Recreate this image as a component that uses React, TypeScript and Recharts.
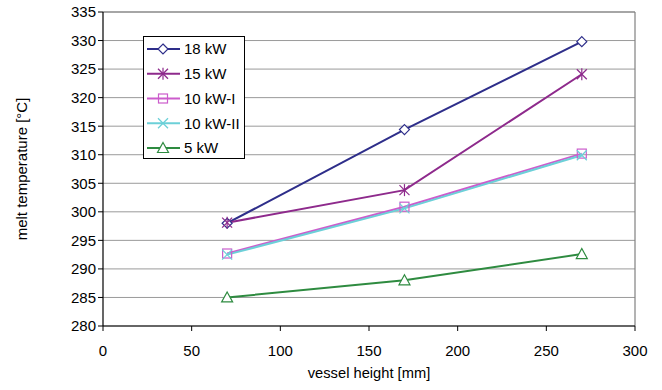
import React from 'react';
import { LineChart, Line, XAxis, YAxis, CartesianGrid, ReferenceLine } from 'recharts';

const heights = [70, 170, 270];
const kw18 = [298.0, 314.4, 329.8];
const kw15 = [298.1, 303.8, 324.1];
const kw10a = [292.7, 300.9, 310.2];
const kw10b = [292.5, 300.6, 309.9];
const kw5 = [285.0, 288.0, 292.6];

const xTicks = [0, 50, 100, 150, 200, 250, 300];
const yTicks = [280, 285, 290, 295, 300, 305, 310, 315, 320, 325, 330, 335];

const series = [
  { key: 'kw18', name: '18 kW', color: '#2e2e8a', marker: 'diamond', values: kw18 },
  { key: 'kw15', name: '15 kW', color: '#8e2a8c', marker: 'star', values: kw15 },
  { key: 'kw10a', name: '10 kW-I', color: '#cc5ccc', marker: 'square', values: kw10a },
  { key: 'kw10b', name: '10 kW-II', color: '#6cd0d8', marker: 'x', values: kw10b },
  { key: 'kw5', name: '5 kW', color: '#2e8b40', marker: 'triangle', values: kw5 },
];

const data = heights.map((h, i) => {
  const row: any = { h };
  series.forEach((s) => { row[s.key] = s.values[i]; });
  return row;
});

const FONT = 'Liberation Sans, Arial, sans-serif';

function Marker({ type, cx, cy, color }: { type: string; cx: number; cy: number; color: string }) {
  const r = 5;
  const sw = 1.2;
  switch (type) {
    case 'diamond':
      return <polygon points={`${cx},${cy - r} ${cx + r},${cy} ${cx},${cy + r} ${cx - r},${cy}`} fill="white" stroke={color} strokeWidth={sw} />;
    case 'square':
      return <rect x={cx - 4.5} y={cy - 4.5} width={9} height={9} fill="white" fillOpacity={0} stroke={color} strokeWidth={sw} />;
    case 'triangle':
      return <polygon points={`${cx},${cy - 5.5} ${cx + 5.5},${cy + 4.5} ${cx - 5.5},${cy + 4.5}`} fill="white" stroke={color} strokeWidth={sw} />;
    case 'x':
      return (
        <g stroke={color} strokeWidth={sw}>
          <line x1={cx - 5} y1={cy - 5} x2={cx + 5} y2={cy + 5} />
          <line x1={cx - 5} y1={cy + 5} x2={cx + 5} y2={cy - 5} />
        </g>
      );
    case 'star':
      return (
        <g stroke={color} strokeWidth={sw}>
          <line x1={cx - 5} y1={cy - 5} x2={cx + 5} y2={cy + 5} />
          <line x1={cx - 5} y1={cy + 5} x2={cx + 5} y2={cy - 5} />
          <line x1={cx} y1={cy - 6} x2={cx} y2={cy + 6} />
        </g>
      );
    default:
      return null;
  }
}

const makeDot = (type: string, color: string) => (props: any) => {
  const { cx, cy, index } = props;
  if (cx == null || cy == null) return <g key={`d-${index}`} />;
  return <g key={`d-${type}-${index}`}><Marker type={type} cx={cx} cy={cy} color={color} /></g>;
};

function LegendBox() {
  const rowH = 24.75;
  return (
    <svg width={102} height={123} style={{ display: 'block' }}>
      <rect x={0.5} y={0.5} width={101} height={122} fill="white" stroke="#000" strokeWidth={1} />
      {series.map((s, i) => {
        const y = 13 + i * rowH;
        return (
          <g key={s.key}>
            <line x1={4} y1={y} x2={37} y2={y} stroke={s.color} strokeWidth={2} />
            <Marker type={s.marker} cx={20} cy={y} color={s.color} />
            <text x={41} y={y + 5.3} fontFamily={FONT} fontSize={15} fill="#000">{s.name}</text>
          </g>
        );
      })}
    </svg>
  );
}

const YLabel = (props: any) => {
  const vb = props.viewBox || {};
  const cy = (vb.y ?? 12) + (vb.height ?? 314) / 2;
  return (
    <text x={21} y={cy} transform={`rotate(-90, 21, ${cy})`} textAnchor="middle" dominantBaseline="central" fontFamily={FONT} fontSize={15} fill="#000">
      melt temperature [°C]
    </text>
  );
};

const XLabel = (props: any) => {
  const vb = props.viewBox || {};
  const cx = (vb.x ?? 103) + (vb.width ?? 532) / 2;
  return (
    <text x={cx} y={378} textAnchor="middle" fontFamily={FONT} fontSize={14.7} fill="#000">
      vessel height [mm]
    </text>
  );
};

export default function App() {
  return (
    <div style={{ position: 'absolute', left: 0, top: 0, width: 662, height: 390, background: 'white' }}>
      <LineChart width={662} height={390} data={data} margin={{ top: 12, right: 27, left: 0, bottom: 0 }}>
        <CartesianGrid horizontal={true} vertical={false} stroke="#9a9a9a" strokeWidth={1} />
        <XAxis
          dataKey="h"
          type="number"
          domain={[0, 300]}
          ticks={xTicks}
          height={64}
          tickSize={5}
          tickLine={{ stroke: '#000' }}
          axisLine={{ stroke: '#000', strokeWidth: 1.2 }}
          tick={{ fontFamily: FONT, fontSize: 15, fill: '#000', dy: 12 }}
          label={<XLabel />}
        />
        <YAxis
          type="number"
          domain={[280, 335]}
          ticks={yTicks}
          width={103}
          tickSize={5}
          interval={0}
          tickLine={{ stroke: '#000' }}
          axisLine={{ stroke: '#000', strokeWidth: 1.2 }}
          tick={{ fontFamily: FONT, fontSize: 15, fill: '#000' }}
          label={<YLabel />}
        />
        <ReferenceLine x={300} stroke="#808080" strokeWidth={1.2} />
        <ReferenceLine y={335} stroke="#808080" strokeWidth={1.2} />
        {series.map((s) => (
          <Line
            key={s.key}
            dataKey={s.key}
            name={s.name}
            stroke={s.color}
            strokeWidth={2}
            isAnimationActive={false}
            dot={makeDot(s.marker, s.color)}
            activeDot={false}
          />
        ))}
      </LineChart>
      <div style={{ position: 'absolute', left: 143, top: 36 }}>
        <LegendBox />
      </div>
    </div>
  );
}
